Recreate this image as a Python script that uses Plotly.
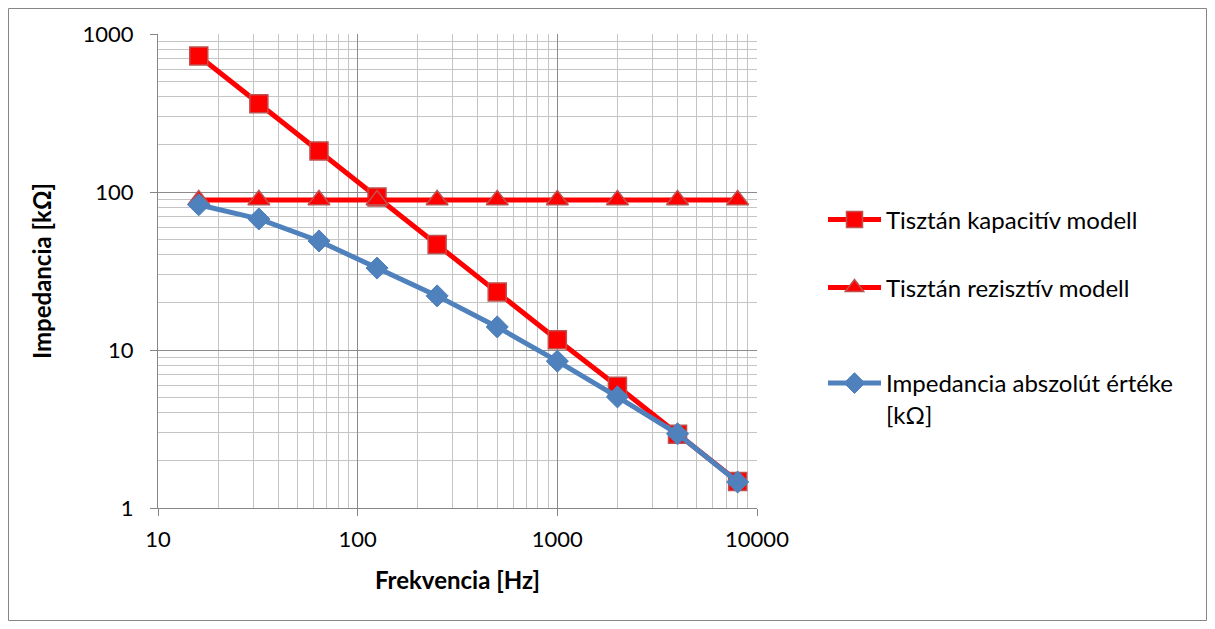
import plotly.graph_objects as go

freq = [16, 32, 64, 125, 250, 500, 1000, 2000, 4000, 8000]
capacitive = [726, 362, 182, 93, 46.5, 23.3, 11.6, 5.9, 2.93, 1.47]
resistive = [89, 89, 89, 89, 89, 89, 89, 89, 89, 89]
impedance = [83, 67.5, 49, 33, 22, 14, 8.5, 5.05, 2.95, 1.46]

names = ["Tisztán kapacitív modell", "Tisztán rezisztív modell",
         "Impedancia abszolút értéke<br>[kΩ]"]

# page has an 8px body margin; figure sized to fit the window exactly
W, H = 1199, 613
ml, mt = 150, 26
pw, ph = 599, 474
mr, mb = W - ml - pw, H - mt - ph

def py(page_y):
    return 1 - (page_y - 34) / ph

def px(page_x):
    return (page_x - 158) / pw

fig = go.Figure()
fig.add_trace(go.Scatter(x=freq, y=capacitive, name=names[0], mode="lines+markers",
                         legend="legend",
                         line=dict(color="#ff0000", width=5),
                         marker=dict(symbol="square", size=18, color="#ff0000",
                                     line=dict(color="#c0504d", width=1.5))))
fig.add_trace(go.Scatter(x=freq, y=resistive, name=names[1], mode="lines+markers",
                         legend="legend2",
                         line=dict(color="#ff0000", width=5),
                         marker=dict(symbol="triangle-up", size=19, color="#ff0000",
                                     line=dict(color="#c0504d", width=1.5))))
fig.add_trace(go.Scatter(x=freq, y=impedance, name=names[2], mode="lines+markers",
                         legend="legend3",
                         line=dict(color="#4f81bd", width=5),
                         marker=dict(symbol="diamond", size=17, color="#4f81bd",
                                     line=dict(color="#4f81bd", width=1))))

axis_common = dict(
    type="log", dtick=1, showline=True, linecolor="#868686", linewidth=1,
    ticks="outside", ticklen=7, tickcolor="#868686",
    showgrid=True, gridcolor="#8c8c8c", gridwidth=1,
    minor=dict(dtick="D1", showgrid=True, gridcolor="#c4c4c4", gridwidth=1, ticks=""),
    tickfont=dict(size=22, color="#000000"),
    tickformat="d", exponentformat="none",
    zeroline=False, mirror=False,
)

fig.update_xaxes(range=[1, 4], ticklabelstandoff=5,
                 title=dict(text="<b>Frekvencia [Hz]</b>",
                            font=dict(size=24, color="#000"), standoff=20),
                 **axis_common)
fig.update_yaxes(range=[0, 3], ticklabelstandoff=12,
                 title=dict(text="<b>Impedancia [kΩ]</b>",
                            font=dict(size=24, color="#000"), standoff=24),
                 **axis_common)

leg_common = dict(xanchor="left", yanchor="middle", x=px(823),
                  font=dict(size=24, color="#000"), itemwidth=53,
                  bgcolor="rgba(0,0,0,0)", valign="top")

fig.update_layout(
    width=W, height=H,
    margin=dict(l=ml, r=mr, t=mt, b=mb),
    paper_bgcolor="white", plot_bgcolor="white",
    font=dict(family="Lato, 'Open Sans', sans-serif", color="#000"),
    showlegend=True,
    legend=dict(y=py(220), **leg_common),
    legend2=dict(y=py(288), **leg_common),
    legend3=dict(y=py(399), **leg_common),
    shapes=[dict(type="rect", xref="paper", yref="paper",
                 x0=-ml / pw + 0.5 / pw, x1=(W - ml - 0.5) / pw,
                 y0=1 + (mt - 0.5) / ph, y1=-(mb - 0.5) / ph,
                 line=dict(color="#868686", width=1), layer="below")],
)

fig.write_html("out.html")
